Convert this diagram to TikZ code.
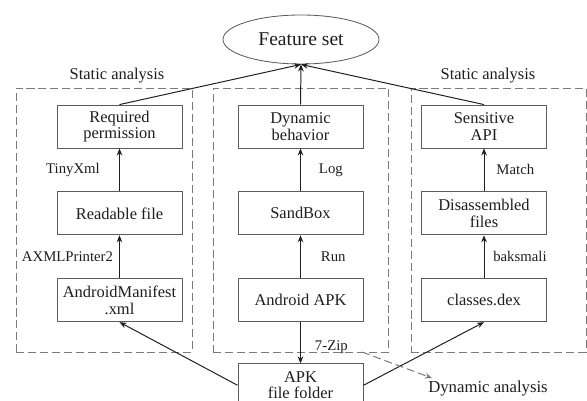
\documentclass[tikz,border=0pt]{standalone}
\usepackage{fontspec}
\setmainfont{Liberation Serif}
\usepackage{tikz}
\usetikzlibrary{positioning,arrows.meta,shapes.geometric}
\definecolor{inkgray}{HTML}{1E1E1E}
\definecolor{edgegray}{HTML}{5C5C5C}
\definecolor{dashgray}{HTML}{7A7A7A}
\tikzset{
  stage/.style={draw=edgegray,line width=0.6pt,fill=white,align=center,minimum width=3.125cm,minimum height=1.075cm,inner sep=2pt,text=inkgray,font=\fontsize{11.7}{11.8}\selectfont},
  group/.style={draw=dashgray,line width=0.6pt,dash pattern=on 5.7pt off 2.8pt,minimum height=6.6cm,inner sep=0pt},
  lbl/.style={inner sep=0pt,text=inkgray,font=\fontsize{10.5}{12}\selectfont},
  flow/.style={draw=inkgray,line width=0.7pt,-{Stealth[length=5pt,width=4pt]}},
}

\begin{document}
\begin{tikzpicture}[x=0.025cm,y=-0.025cm]
  \useasboundingbox (0,0) rectangle (587,401);
  % dashed groups
  \node[group,minimum width=4.4cm] (grpleft) at (104,220) {};
  \node[group,minimum width=4.39cm] (grpmid) at (301,220) {};
  \node[group,minimum width=4.375cm] (grpright) at (498.5,220) {};
  \node[lbl,font=\fontsize{11.7}{12}\selectfont] (statl) at (117,76) {Static analysis};
  \node[lbl,font=\fontsize{11.7}{12}\selectfont] (statr) at (488,76) {Static analysis};
  % feature set
  \node[draw=edgegray,line width=0.6pt,ellipse,minimum width=3.9cm,minimum height=1.225cm,text=inkgray,font=\fontsize{13.9}{15}\selectfont] (feat) at (301,39.5) {Feature set};
  % left column
  \node[stage] (reqperm) at (119.5,126.5) {Required\\permission};
  \node[stage,below=1.075cm of reqperm] (readable) {Readable file};
  \node[stage,below=1.075cm of readable] (manifest) {AndroidManifest\\.xml};
  % middle column
  \node[stage] (dynbeh) at (300.5,126.5) {Dynamic\\behavior};
  \node[stage,below=1.075cm of dynbeh] (sandbox) {SandBox};
  \node[stage,below=1.075cm of sandbox] (apk) {Android APK};
  \node[stage,below=1.03cm of apk] (folder) {APK\\file folder};
  % right column
  \node[stage] (sensapi) at (484,126.5) {Sensitive\\API};
  \node[stage,below=1.075cm of sensapi] (disasm) {Disassembled\\files};
  \node[stage,below=1.075cm of disasm] (classes) {classes.dex};
  \node[lbl,font=\fontsize{11.9}{12}\selectfont] (dyn) at (488,388) {Dynamic analysis};
  \coordinate (zip) at (362,352);
  % connectors
  \draw[flow] (reqperm.north) -- (feat.south);
  \draw[flow] (dynbeh.north) -- (feat.south);
  \draw[flow] (sensapi.north) -- (feat.south);
  \draw[flow] (readable) -- node[lbl,left=0.48cm] {TinyXml} (reqperm);
  \draw[flow] (manifest) -- node[lbl,left=0.15cm] {AXMLPrinter2} (readable);
  \draw[flow] (sandbox) -- node[lbl,right=0.45cm] {Log} (dynbeh);
  \draw[flow] (apk) -- node[lbl,right=0.5cm] {Run} (sandbox);
  \draw[flow] (disasm) -- node[lbl,right=0.3cm] {Match} (sensapi);
  \draw[flow] (classes) -- node[lbl,right=0.22cm] {baksmali} (disasm);
  \draw[flow] (apk) -- node[lbl,pos=0.6,right=0.35cm] {7-Zip} (folder);
  \draw[flow] (folder.west) -- (manifest.south);
  \draw[flow] (folder.east) -- (classes.south);
  \draw[flow,draw=dashgray,dash pattern=on 5.7pt off 2.8pt] (zip) -- ([xshift=0.1cm,yshift=0.05cm]dyn.north west);
\end{tikzpicture}
\end{document}
